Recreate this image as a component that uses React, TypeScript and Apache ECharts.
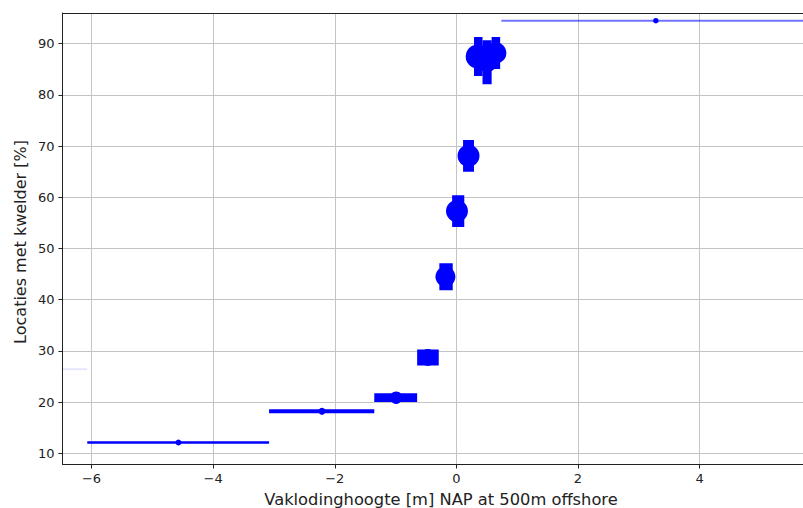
import React, { useEffect, useRef } from "react";
import * as echarts from "echarts";

// Data (x in m NAP, y in %)
const xCenters = [-6.85, -4.57, -2.21, -0.99, -0.47, -0.18, 0.01, 0.2, 0.35, 0.505, 0.65, 3.28];
const yValues = [26.4, 12.1, 18.2, 20.85, 28.7, 44.5, 57.3, 68.1, 87.5, 86.4, 88.2, 94.5];
const xLow = [-7.6, -6.07, -3.08, -1.35, -0.645, -0.28, -0.07, 0.11, 0.29, 0.43, 0.58, 0.74];
const xHigh = [-6.07, -3.08, -1.35, -0.645, -0.29, -0.06, 0.13, 0.29, 0.43, 0.58, 0.72, 5.82];
const barWeights = [2, 2.5, 4, 8.7, 16, 27, 31.6, 31.7, 39, 44, 32, 2];
const markerWeights = [0, 6, 7, 12.5, 17, 20, 22, 22, 24, 20, 21, 5.5];
const barAlpha = [0.1, 1, 1, 1, 1, 1, 1, 1, 1, 1, 1, 0.55];

const xTicks = [-6, -4, -2, 0, 2, 4];
const yTicks = [10, 20, 30, 40, 50, 60, 70, 80, 90];

const xTitle = "Vaklodinghoogte [m] NAP at 500m offshore";
const yTitle = "Locaties met kwelder [%]";

const BLUE = "#0000ff";
const FONT = "DejaVu Sans";

export default function App() {
  const ref = useRef<HTMLDivElement>(null);
  useEffect(() => {
    if (!ref.current) return;
    const chart = echarts.init(ref.current, null, { renderer: "svg" });
    const data = xCenters.map((x, i) => [x, yValues[i], xLow[i], xHigh[i], barWeights[i], markerWeights[i], barAlpha[i]]);
    const fmt = (v: number) => String(v).replace("-", "\u2212");
    chart.setOption({
      animation: false,
      backgroundColor: "#fff",
      grid: { left: 62.5, top: 13, right: 0, bottom: 43.5, containLabel: false },
      xAxis: [
        {
          type: "value",
          min: -6.477,
          max: 5.7,
          axisLine: { show: true, onZero: false, lineStyle: { color: "#222", width: 1 } },
          axisTick: { show: true, length: 4, customValues: xTicks, lineStyle: { color: "#222", width: 1 } },
          axisLabel: { customValues: xTicks, formatter: fmt, color: "#222", fontSize: 13, fontFamily: FONT, margin: 7 },
          splitLine: { show: true, lineStyle: { color: "#c4c4c4", width: 1 } },
        },
        {
          type: "value",
          position: "top",
          min: -6.477,
          max: 5.7,
          axisLine: { show: true, onZero: false, lineStyle: { color: "#222", width: 1 } },
          axisTick: { show: false },
          axisLabel: { show: false },
          splitLine: { show: false },
        },
      ],
      yAxis: {
        type: "value",
        min: 7.8,
        max: 96.0,
        axisLine: { show: true, onZero: false, lineStyle: { color: "#222", width: 1 } },
        axisTick: { show: true, length: 4, customValues: yTicks, lineStyle: { color: "#222", width: 1 } },
        axisLabel: { customValues: yTicks, color: "#222", fontSize: 13, fontFamily: FONT, margin: 8 },
        splitLine: { show: true, lineStyle: { color: "#c4c4c4", width: 1 } },
      },
      graphic: [
        {
          type: "text",
          x: 441,
          y: 499.5,
          style: { text: xTitle, fontSize: 16.3, fontFamily: FONT, fill: "#222", textAlign: "center", textVerticalAlign: "middle" },
        },
        {
          type: "text",
          x: 20.5,
          y: 242,
          rotation: Math.PI / 2,
          style: { text: yTitle, fontSize: 16, fontFamily: FONT, fill: "#222", textAlign: "center", textVerticalAlign: "middle" },
        },
      ],
      series: [
        {
          type: "custom",
          clip: true,
          data,
          encode: { x: [0, 2, 3], y: 1 },
          renderItem: (params: any, api: any) => {
            const x = api.value(0);
            const y = api.value(1);
            const lo = api.value(2);
            const hi = api.value(3);
            const lw = api.value(4);
            const ms = api.value(5);
            const a = api.value(6);
            const c = api.coord([x, y]);
            const pl = api.coord([lo, y]);
            const ph = api.coord([hi, y]);
            const children: any[] = [
              {
                type: "rect",
                shape: { x: pl[0], y: c[1] - lw / 2, width: ph[0] - pl[0], height: lw },
                style: { fill: BLUE, opacity: a },
              },
            ];
            if (ms > 0) {
              children.push({ type: "circle", shape: { cx: c[0], cy: c[1], r: ms / 2 }, style: { fill: BLUE } });
            }
            return { type: "group", children };
          },
        },
      ],
    });
    return () => chart.dispose();
  }, []);
  return (
    <div
      ref={ref}
      style={{ position: "fixed", left: 0, top: 0, width: 803, height: 508, background: "#fff" }}
    />
  );
}
